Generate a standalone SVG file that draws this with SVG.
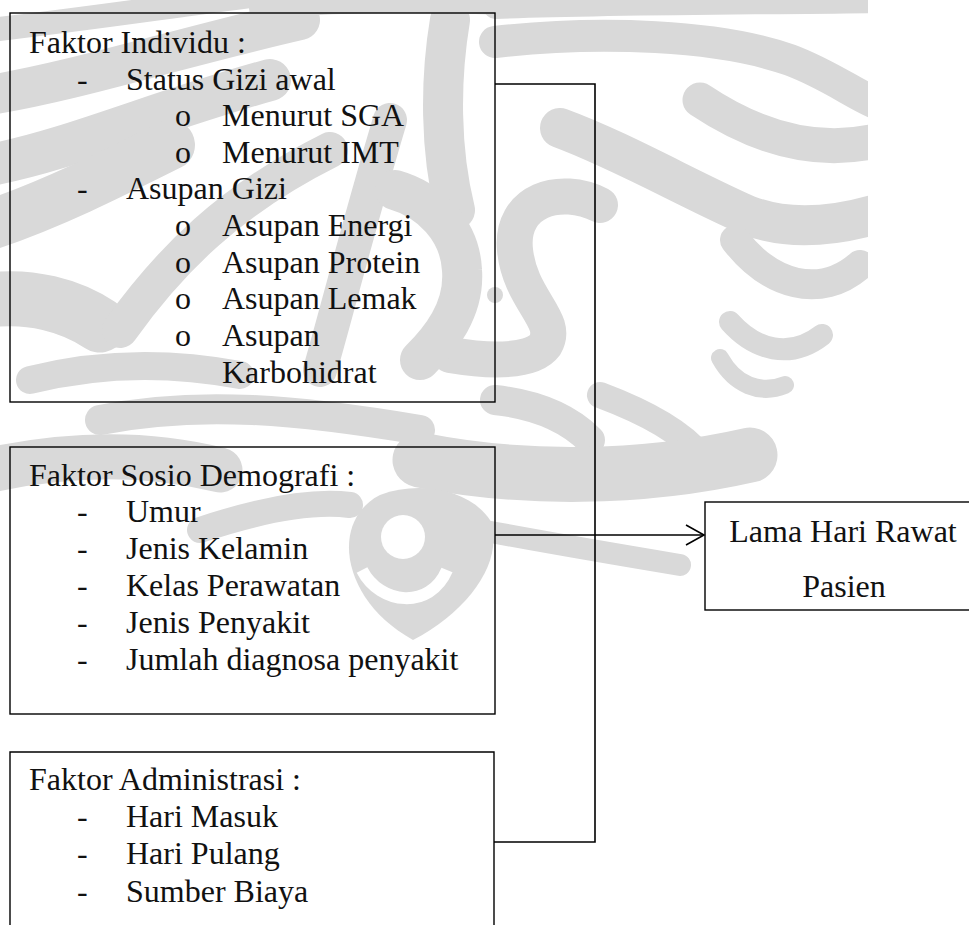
<svg xmlns="http://www.w3.org/2000/svg" width="969" height="925" viewBox="0 0 969 925">
<style>
.wm{fill:none;stroke:#d9d9d9;stroke-linecap:round}
.wf{fill:#d9d9d9}
.box{fill:none;stroke:#000;stroke-width:1.4}
.con{fill:none;stroke:#000;stroke-width:1.6}
text{font-family:"Liberation Serif","Times New Roman",serif;font-size:32px;fill:#111}
.mid{text-anchor:middle}
</style>
<defs>
<clipPath id="wmclip"><rect x="0" y="0" width="868" height="700"/></clipPath>
</defs>
<rect width="969" height="925" fill="#fff"/>
<g id="watermark" clip-path="url(#wmclip)">
<path class="wm" stroke-width="24" d="M-10 30 C80 20 180 5 260 -5"/>
<path class="wm" stroke-width="40" d="M-10 95 C80 80 170 50 300 20"/>
<path class="wm" stroke-width="42" d="M-10 165 C70 150 160 110 270 80"/>
<path class="wm" stroke-width="50" d="M-10 225 C50 205 110 175 170 145"/>
<path class="wm" stroke-width="55" d="M-10 300 C30 295 70 305 100 325"/>
<path class="wm" stroke-width="28" d="M30 380 C90 365 160 360 240 375"/>
<path class="wm" stroke-width="36" d="M120 330 C170 260 230 200 330 150"/>
<path class="wm" stroke-width="34" d="M320 370 C340 300 360 220 390 120"/>
<path class="wm" stroke-width="40" d="M450 20 C440 80 440 150 455 210"/>
<path class="wm" stroke-width="22" d="M260 8 C350 0 430 0 520 5"/>
<path class="wm" stroke-width="22" d="M495 8 C600 4 720 4 880 2"/>
<path class="wm" stroke-width="32" d="M495 42 C600 30 720 35 790 60 C830 75 855 95 880 105"/>
<path class="wm" stroke-width="35" d="M700 100 C760 140 820 155 880 140"/>
<path class="wm" stroke-width="40" d="M560 128 C620 150 690 190 747 215 C790 232 840 225 880 213"/>
<path class="wm" stroke-width="30" d="M735 240 C770 285 820 300 860 265"/>
<path class="wm" stroke-width="22" d="M730 322 C755 350 790 360 822 335"/>
<path class="wm" stroke-width="18" d="M720 358 C735 385 760 395 785 385"/>
<path class="wm" stroke-width="36" d="M600 205 C560 185 510 200 515 250 C520 300 560 320 545 345 C530 365 480 360 450 355"/>
<path class="wm" stroke-width="40" d="M395 190 C430 200 460 230 462 270 C465 310 440 340 420 360"/>
<circle class="wf" cx="495" cy="295" r="8"/>
<path class="wm" stroke-width="30" d="M495 400 C540 405 570 420 590 440"/>
<path class="wm" stroke-width="26" d="M600 395 C640 410 680 430 700 455"/>
<path class="wm" stroke-width="55" d="M420 460 C520 480 640 480 750 455"/>
<path class="wm" stroke-width="22" d="M480 530 C560 545 620 555 680 565"/>
<path class="wm" stroke-width="45" d="M-10 470 C60 455 140 450 220 470"/>
<path class="wm" stroke-width="30" d="M100 420 C200 400 300 410 420 430"/>
<path class="wm" stroke-width="26" d="M200 530 C260 510 310 500 350 505"/>
<path class="wf" d="M413 640 C340 600 330 520 380 495 C420 480 470 490 490 520 C505 560 470 610 413 640 Z"/>
<circle cx="403" cy="537" r="22" fill="#fff"/>
<path d="M362 570 C380 605 430 610 447 570" fill="none" stroke="#fff" stroke-width="12"/>
</g>
<g id="connectors">
<path class="con" d="M495 84 H595 V842 H494"/>
<path class="con" d="M495 535 H703"/>
<path class="con" stroke-width="2" d="M686 525 L704 535 L686 545"/>
</g>
<g id="node-individu">
<rect class="box" x="10" y="13" width="485" height="389"/>
<text x="29" y="53">Faktor Individu :</text>
<text x="77" y="90">-</text><text x="126" y="90">Status Gizi awal</text>
<text x="175" y="126">o</text><text x="222" y="126">Menurut SGA</text>
<text x="175" y="163">o</text><text x="222" y="163">Menurut IMT</text>
<text x="77" y="199">-</text><text x="126" y="199">Asupan Gizi</text>
<text x="175" y="236">o</text><text x="222" y="236">Asupan Energi</text>
<text x="175" y="273">o</text><text x="222" y="273">Asupan Protein</text>
<text x="175" y="309">o</text><text x="222" y="309">Asupan Lemak</text>
<text x="175" y="346">o</text><text x="222" y="346">Asupan</text>
<text x="222" y="383">Karbohidrat</text>
</g>
<g id="node-sosio">
<rect class="box" x="10" y="447" width="485" height="267"/>
<text x="29" y="486">Faktor Sosio Demografi :</text>
<text x="77" y="522">-</text><text x="126" y="522">Umur</text>
<text x="77" y="559">-</text><text x="126" y="559">Jenis Kelamin</text>
<text x="77" y="596">-</text><text x="126" y="596">Kelas Perawatan</text>
<text x="77" y="633">-</text><text x="126" y="633">Jenis Penyakit</text>
<text x="77" y="670">-</text><text x="126" y="670">Jumlah diagnosa penyakit</text>
</g>
<g id="node-administrasi">
<path class="box" d="M10 930 V752 H494 V930"/>
<text x="29" y="790">Faktor Administrasi :</text>
<text x="77" y="827">-</text><text x="126" y="827">Hari Masuk</text>
<text x="77" y="864">-</text><text x="126" y="864">Hari Pulang</text>
<text x="77" y="902">-</text><text x="126" y="902">Sumber Biaya</text>
</g>
<g id="node-lama">
<rect class="box" x="705" y="502" width="300" height="108"/>
<text class="mid" x="843" y="542">Lama Hari Rawat</text>
<text class="mid" x="844" y="597">Pasien</text>
</g>
</svg>
